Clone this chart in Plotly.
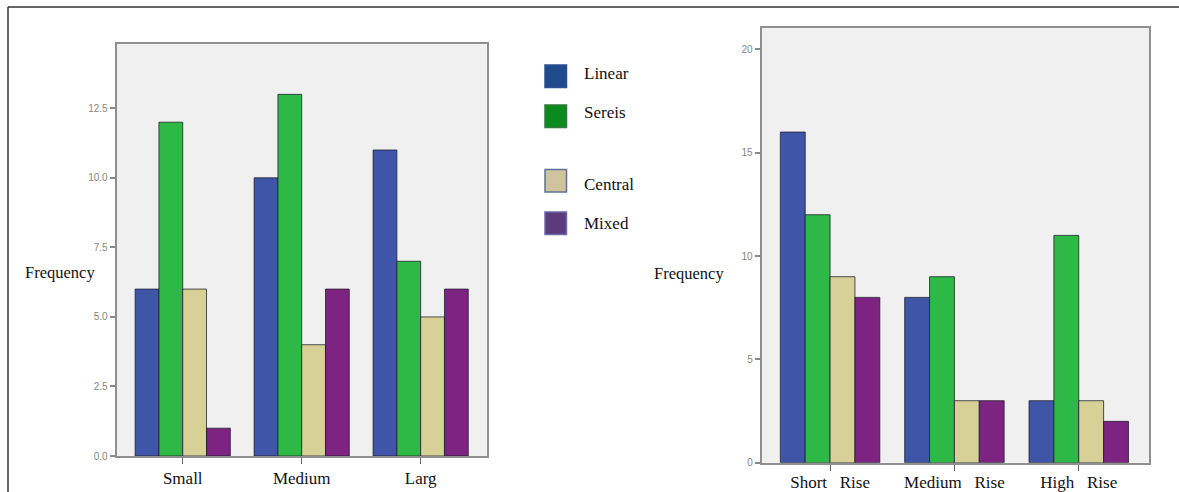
import plotly.graph_objects as go

# ---- data ----
series = ["Linear", "Sereis", "Central", "Mixed"]
colors = ["#3f55a8", "#2eb845", "#d7d097", "#7d2381"]
legend_colors = ["#1f4a8c", "#0b8a1e", "#cfc49e", "#5c3a7c"]
legend_borders = ["#2a5090", "#2f7a3a", "#5f7394", "#6a6aa8"]

left_categories = ["Small", "Medium", "Larg"]
left_values = {
    "Linear": [6, 10, 11],
    "Sereis": [12, 13, 7],
    "Central": [6, 4, 5],
    "Mixed": [1, 6, 6],
}
left_ticks = [0, 2.5, 5, 7.5, 10, 12.5]

right_categories = ["Short\u00a0\u00a0\u00a0Rise", "Medium\u00a0\u00a0\u00a0Rise", "High\u00a0\u00a0\u00a0Rise"]
right_values = {
    "Linear": [16, 8, 3],
    "Sereis": [12, 9, 11],
    "Central": [9, 3, 3],
    "Mixed": [8, 3, 2],
}
right_ticks = [0, 5, 10, 15, 20]

W, H = 1179, 492

def px(x):
    return x / W

def py(y):
    return 1 - y / H

fig = go.Figure()
for s, c in zip(series, colors):
    fig.add_trace(go.Bar(x=left_categories, y=left_values[s], name=s,
                         marker=dict(color=c, line=dict(color="rgba(25,25,40,0.75)", width=1)),
                         xaxis="x", yaxis="y", showlegend=False))
for s, c in zip(series, colors):
    fig.add_trace(go.Bar(x=right_categories, y=right_values[s], name=s,
                         marker=dict(color=c, line=dict(color="rgba(25,25,40,0.75)", width=1)),
                         xaxis="x2", yaxis="y2", showlegend=False))

serif = "Liberation Serif, Times New Roman, serif"
axis_common = dict(showline=True, mirror=True, linecolor="#8f8f8f", linewidth=2,
                   showgrid=False, zeroline=False, automargin=False)
xcat = dict(axis_common, type="category", ticks="outside", ticklen=6, tickcolor="#666",
            tickwidth=1,
            tickfont=dict(family=serif, size=17, color="#111"))
yval = dict(axis_common, ticks="outside", ticklen=5, tickcolor="#888", tickwidth=1.5,
            tickfont=dict(family="Liberation Sans, Arial, sans-serif", size=10, color="#858585"))

fig.update_layout(
    width=W, height=H,
    margin=dict(l=0, r=0, t=0, b=0, pad=0, autoexpand=False),
    paper_bgcolor="white",
    plot_bgcolor="#f0f0f0",
    barmode="group", bargap=0.2, bargroupgap=0,
    xaxis=dict(xcat, domain=[px(116.7), px(486.7)], range=[-0.555, 2.555], anchor="y"),
    yaxis=dict(yval, domain=[py(456), py(44.3)], range=[0, 14.8], tickvals=left_ticks,
               tickformat=".1f", anchor="x"),
    xaxis2=dict(xcat, domain=[px(761.7), px(1149)], range=[-0.55, 2.565], anchor="y2",
                ticklabelstandoff=-3),
    yaxis2=dict(yval, domain=[py(462.7), py(27.7)], range=[0, 21.05], tickvals=right_ticks,
                anchor="x2"),
)

# outer frame
fig.add_shape(type="line", xref="paper", yref="paper", x0=px(8), x1=1.01, y0=py(7), y1=py(7),
              line=dict(color="#333", width=1.5))
fig.add_shape(type="line", xref="paper", yref="paper", x0=px(8), x1=px(8), y0=py(7), y1=-0.01,
              line=dict(color="#333", width=1.5))

# manual legend
legend_tops = [65, 105, 169.5, 212]
text_y = [73, 112, 185, 223]
for s, fc, bc, t, ty in zip(series, legend_colors, legend_borders, legend_tops, text_y):
    fig.add_shape(type="rect", xref="paper", yref="paper",
                  x0=px(545), x1=px(566.5), y0=py(t + 22.5), y1=py(t),
                  fillcolor=fc, line=dict(color=bc, width=1.5))
    fig.add_annotation(xref="paper", yref="paper", x=px(582), y=py(ty), text=s,
                       showarrow=False, xanchor="left", yanchor="middle",
                       font=dict(family=serif, size=17, color="#111"))

# y titles
fig.add_annotation(xref="paper", yref="paper", x=px(60), y=py(272), text="Frequency",
                   showarrow=False, xanchor="center", yanchor="middle",
                   font=dict(family=serif, size=16.5, color="#111"))
fig.add_annotation(xref="paper", yref="paper", x=px(689), y=py(273), text="Frequency",
                   showarrow=False, xanchor="center", yanchor="middle",
                   font=dict(family=serif, size=16.5, color="#111"))

post = (
    "document.documentElement.style.margin='0';"
    "document.documentElement.style.overflow='hidden';"
    "document.body.style.margin='0';"
    "document.body.style.overflow='hidden';"
    "var gd=document.getElementById('{plot_id}');"
    "gd.style.display='block';"
)

fig.write_html("out.html", config={"displayModeBar": False}, post_script=post)
